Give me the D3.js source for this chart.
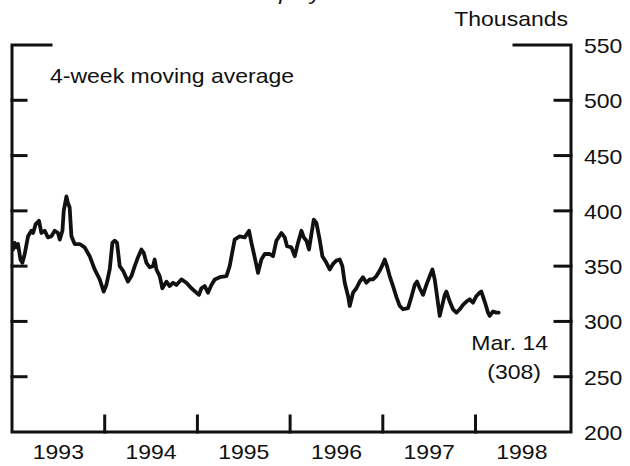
<!DOCTYPE html>
<html>
<head>
<meta charset="utf-8">
<script src="https://cdn.jsdelivr.net/npm/d3@7"></script>
<style>
	body { margin: 0; background: #fff; }
	svg text { font-family: "Liberation Sans", Arial, sans-serif; font-size: 20px; fill: #111; }
</style>
</head>
<body>
<svg id="claims-plot" width="630" height="466"></svg>
<script>

// weekly initial claims, 4-week moving average (thousands)
const weeks = [
	1993.011, 1993.029, 1993.047, 1993.065, 1993.091, 1993.112, 1993.137, 1993.173, 1993.209, 1993.227,
	1993.256, 1993.291, 1993.317, 1993.353, 1993.388, 1993.425, 1993.461, 1993.496, 1993.515, 1993.544,
	1993.558, 1993.587, 1993.604, 1993.622, 1993.641, 1993.676, 1993.730, 1993.784, 1993.838, 1993.892,
	1993.946, 1993.989, 1994.018, 1994.054, 1994.083, 1994.108, 1994.133, 1994.162, 1994.197, 1994.251,
	1994.288, 1994.324, 1994.359, 1994.396, 1994.421, 1994.450, 1994.485, 1994.521, 1994.539, 1994.558,
	1994.593, 1994.622, 1994.666, 1994.701, 1994.737, 1994.773, 1994.827, 1994.881, 1994.935, 1994.989,
	1995.017, 1995.043, 1995.079, 1995.114, 1995.151, 1995.187, 1995.241, 1995.313, 1995.348, 1995.402,
	1995.456, 1995.510, 1995.557, 1995.583, 1995.618, 1995.654, 1995.690, 1995.726, 1995.780, 1995.816,
	1995.852, 1995.906, 1995.942, 1995.967, 1996.014, 1996.050, 1996.085, 1996.122, 1996.147, 1996.176,
	1996.204, 1996.230, 1996.255, 1996.284, 1996.319, 1996.348, 1996.392, 1996.427, 1996.463, 1996.499,
	1996.535, 1996.564, 1996.589, 1996.625, 1996.643, 1996.679, 1996.715, 1996.751, 1996.786, 1996.823,
	1996.859, 1996.894, 1996.931, 1996.967, 1997.002, 1997.021, 1997.045, 1997.074, 1997.110, 1997.147,
	1997.182, 1997.218, 1997.272, 1997.308, 1997.344, 1997.369, 1997.398, 1997.434, 1997.470, 1997.506,
	1997.535, 1997.560, 1997.585, 1997.614, 1997.668, 1997.686, 1997.722, 1997.757, 1997.794, 1997.830,
	1997.865, 1997.902, 1997.938, 1997.973, 1998.010, 1998.045, 1998.063, 1998.099, 1998.135, 1998.153,
	1998.189, 1998.225, 1998.250
];

const claims = [
	365, 371, 367, 370, 356, 353, 361, 377, 382, 380,
	388, 391, 380, 382, 376, 377, 382, 380, 374, 382,
	400, 413, 407, 403, 377, 370, 370, 367, 359, 347,
	338, 327, 333, 347, 371, 373, 371, 350, 346, 336,
	341, 350, 358, 365, 362, 353, 349, 350, 356, 347,
	341, 330, 336, 332, 335, 333, 338, 335, 330, 326,
	324, 330, 332, 326, 333, 338, 340, 341, 350, 374,
	377, 376, 382, 371, 358, 344, 356, 361, 361, 359,
	373, 380, 376, 368, 367, 359, 371, 382, 376, 373,
	365, 379, 392, 389, 374, 359, 353, 347, 352, 355,
	356, 350, 335, 323, 314, 326, 330, 336, 340, 335,
	338, 338, 341, 346, 352, 356, 350, 341, 332, 322,
	314, 311, 312, 322, 333, 336, 330, 324, 333, 341,
	347, 338, 323, 305, 324, 327, 318, 311, 308, 311,
	315, 318, 320, 317, 323, 326, 327, 318, 308, 305,
	309, 308, 308
];

const valueTicks = [250, 300, 350, 400, 450, 500];
const valueLabels = [200, 250, 300, 350, 400, 450, 500, 550];
const yearBreaks = [1994, 1995, 1996, 1997, 1998];
const yearLabels = [1993, 1994, 1995, 1996, 1997, 1998];

const textScale = "scale(1.15,1)";

function drawChart(svg_id) {

	const svg = d3.select("#" + svg_id);

	const left = 12, right = 571, top = 45, bottom = 432;

	const x = d3.scaleLinear()
		.domain([1993, 1999.03])
		.range([left, right]);

	const y = d3.scaleLinear()
		.domain([200, 550])
		.range([bottom, top]);

	// title, mostly cut off at the top edge of the scan
	svg.append("text")
		.attr("transform", "translate(48,0) " + textScale)
		.style("font-style", "italic")
		.text("Initial Claims for Unemployment Insurance");

	const frame = svg.append("g")
		.attr("stroke", "#111")
		.attr("stroke-width", 3)
		.attr("fill", "none")
		.attr("stroke-linecap", "square");

	// left, bottom and right sides of the box, plus the two short top pieces
	frame.append("path")
		.attr("d", "M" + (left + 39) + "," + top + "H" + left + "V" + bottom + "H" + right + "V" + top + "H" + (right - 57));

	// ticks pointing into the box
	frame.selectAll(".tick-left")
		.data(valueTicks)
		.enter()
		.append("line")
		.attr("x1", left).attr("x2", left + 14)
		.attr("y1", d => y(d)).attr("y2", d => y(d));

	frame.selectAll(".tick-right")
		.data(valueTicks)
		.enter()
		.append("line")
		.attr("x1", right).attr("x2", right - 16)
		.attr("y1", d => y(d)).attr("y2", d => y(d));

	frame.selectAll(".tick-year")
		.data(yearBreaks)
		.enter()
		.append("line")
		.attr("x1", d => x(d)).attr("x2", d => x(d))
		.attr("y1", bottom).attr("y2", bottom - 16);

	// value labels on the right
	svg.selectAll(".value-label")
		.data(valueLabels)
		.enter()
		.append("text")
		.attr("transform", d => "translate(584," + (y(d) + 8) + ") " + textScale)
		.text(d => d);

	// year labels centred on each year
	svg.selectAll(".year-label")
		.data(yearLabels)
		.enter()
		.append("text")
		.attr("transform", d => "translate(" + x(d + 0.5) + ",459) " + textScale)
		.attr("text-anchor", "middle")
		.text(d => d);

	svg.append("text")
		.attr("transform", "translate(568,26) " + textScale)
		.attr("text-anchor", "end")
		.text("Thousands");

	svg.append("text")
		.attr("transform", "translate(50,83) " + textScale)
		.text("4-week moving average");

	svg.append("text")
		.attr("transform", "translate(548,350) " + textScale)
		.attr("text-anchor", "end")
		.text("Mar. 14");

	svg.append("text")
		.attr("transform", "translate(541,379) " + textScale)
		.attr("text-anchor", "end")
		.text("(308)");

	const line = d3.line()
		.x(d => x(d[0]))
		.y(d => y(d[1]));

	svg.append("path")
		.datum(d3.zip(weeks, claims))
		.attr("d", line)
		.attr("fill", "none")
		.attr("stroke", "#111")
		.attr("stroke-width", 3.8)
		.attr("stroke-linejoin", "round")
		.attr("stroke-linecap", "round");
}

drawChart("claims-plot");

</script>
</body>
</html>
